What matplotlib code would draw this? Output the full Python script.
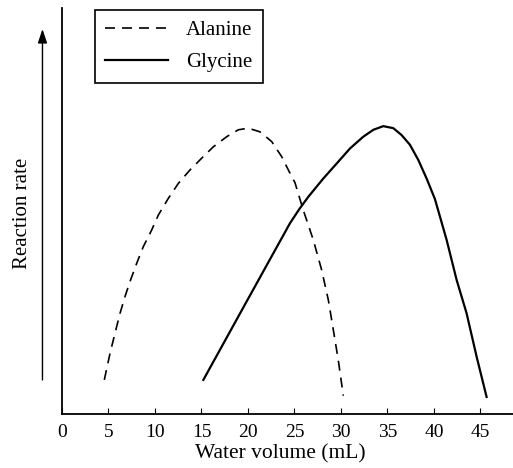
import matplotlib
matplotlib.use("Agg")
import matplotlib.pyplot as plt

# values (reaction rate in arbitrary units, 0-10)
alanine_x = [4.55, 5.16, 5.70, 6.24, 6.77, 7.31, 8.03, 8.74, 9.64, 10.36, 11.43,
             12.51, 13.76, 15.02, 16.27, 17.71, 18.96, 20.03, 21.29, 22.55, 23.62,
             24.52, 25.05, 25.95, 27.02, 27.92, 28.64, 29.18, 29.71, 30.25]
alanine_y = [0.84, 1.49, 1.99, 2.48, 2.89, 3.26, 3.71, 4.12, 4.53, 4.90, 5.31,
             5.68, 6.01, 6.30, 6.58, 6.83, 7.00, 7.04, 6.95, 6.71, 6.34,
             5.93, 5.70, 5.02, 4.29, 3.55, 2.81, 2.07, 1.33, 0.45]

glycine_x = [15.2, 19.9, 24.52, 25.5, 26.49, 28.10, 29.54, 30.97, 32.40, 33.48,
             34.55, 35.63, 36.52, 37.42, 38.31, 39.21, 40.11, 41.36, 42.44, 43.51,
             44.59, 45.66]
glycine_y = [0.84, 2.79, 4.70, 5.04, 5.35, 5.80, 6.17, 6.54, 6.83, 7.00,
             7.09, 7.04, 6.87, 6.63, 6.26, 5.80, 5.29, 4.29, 3.30, 2.48,
             1.41, 0.42]

xticks = [0, 5, 10, 15, 20, 25, 30, 35, 40, 45]

plt.rcParams['font.family'] = ['Liberation Serif', 'DejaVu Serif']
plt.rcParams['font.size'] = 14

fig = plt.figure(figsize=(5.13, 4.68), dpi=100)
ax = fig.add_axes([62 / 513, 54 / 468, 451 / 513, 406 / 468])

ax.plot(alanine_x, alanine_y, color='black', lw=1.2, dashes=(6, 4.2), label='Alanine')
ax.plot(glycine_x, glycine_y, color='black', lw=1.6, label='Glycine')

ax.set_xlim(0, 48.5)
ax.set_ylim(0, 10)
ax.set_xticks(xticks)
ax.set_yticks([])
ax.tick_params(axis='x', direction='in', length=4, width=0.8, pad=7, labelsize=14)
for side in ['top', 'right']:
    ax.spines[side].set_visible(False)
for side in ['left', 'bottom']:
    ax.spines[side].set_linewidth(1.3)

ax.set_xlabel('Water volume (mL)', fontsize=15.5)
ax.xaxis.set_label_coords(0.483, -0.075)
ax.set_ylabel('Reaction rate', fontsize=15)
ax.yaxis.set_label_coords(-0.066, 0.495)

# arrow beside the y axis
ax.annotate('', xy=(-2.1, 9.55), xytext=(-2.1, 0.77), annotation_clip=False,
            arrowprops=dict(arrowstyle='-|>,head_length=0.6,head_width=0.2',
                            color='black', lw=1.0))

leg = ax.legend(loc='upper left', bbox_to_anchor=(0.073, 0.995), fancybox=False,
                edgecolor='black', framealpha=1, fontsize=15, handlelength=3.0,
                handletextpad=0.87, labelspacing=0.6, borderpad=0.5,
                borderaxespad=0)
leg.get_frame().set_linewidth(1.2)

fig.savefig('out.png', dpi=100)
